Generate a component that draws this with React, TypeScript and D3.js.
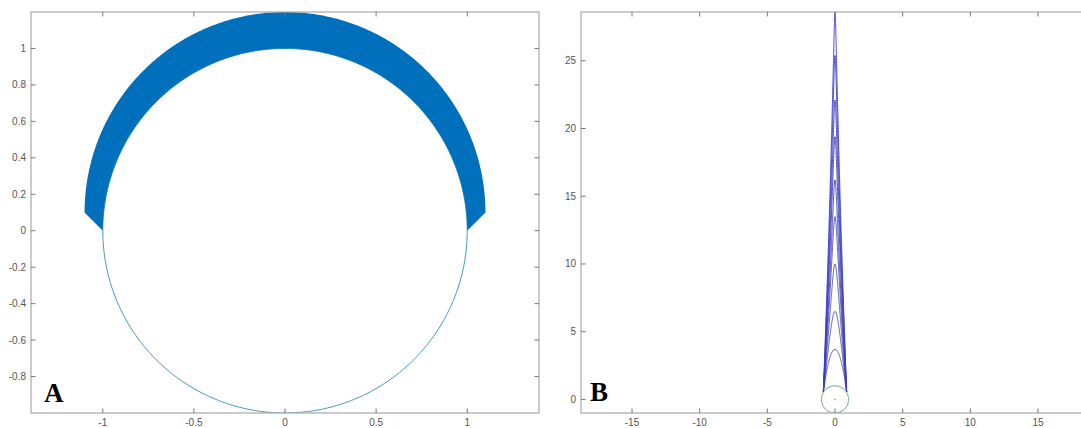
import React from "react";
import * as d3 from "d3";

// ---------- Data ----------
// Panel A: unit circle + crescent band (outer circle centre y, radius)
const circleRadiusA = 1;
const bandOuterRadius = 1.1;
const bandOuterCenterY = 0.1;
const xTicksA = [-1, -0.5, 0, 0.5, 1];
const yTicksA = [-0.8, -0.6, -0.4, -0.2, 0, 0.2, 0.4, 0.6, 0.8, 1];

// Panel B: base circle + nested arches (peak heights and sharpness)
const circleRadiusB = 1;
const archPeaks = [3.7, 6.5, 10.0, 13.5, 16.2, 19.4, 22.1, 25.4, 28.6];
const archSharpness = [0, 0.3, 0.5, 0.6, 0.64, 0.66, 0.68, 0.7, 0.72];
const archBaseHalfWidth = 0.86;
const archBaseY = 0.55;
const xTicksB = [-15, -10, -5, 0, 5, 10, 15];
const yTicksB = [0, 5, 10, 15, 20, 25];

const W = 1081;
const H = 428;

type Box = { x0: number; x1: number; y0: number; y1: number };

function Axes({ box, xs, ys, xTicks, yTicks, fmt }: any) {
  const tl = 4.5;
  return (
    <g>
      <rect x={box.x0} y={box.y0} width={box.x1 - box.x0} height={box.y1 - box.y0}
        fill="none" stroke="#a8a8a8" strokeWidth={1.2} />
      {xTicks.map((t: number) => (
        <g key={"x" + t}>
          <line x1={xs(t)} x2={xs(t)} y1={box.y1} y2={box.y1 - tl} stroke="#777" />
          <line x1={xs(t)} x2={xs(t)} y1={box.y0} y2={box.y0 + tl} stroke="#777" />
          <text x={xs(t)} y={box.y1 + 13} textAnchor="middle" fontSize={10}
            fontFamily="'Liberation Sans', Arial, sans-serif" fill="#555">{fmt(t)}</text>
        </g>
      ))}
      {yTicks.map((t: number) => (
        <g key={"y" + t}>
          <line x1={box.x0} x2={box.x0 + tl} y1={ys(t)} y2={ys(t)} stroke="#777" />
          <line x1={box.x1} x2={box.x1 - tl} y1={ys(t)} y2={ys(t)} stroke="#777" />
          <text x={box.x0 - 5} y={ys(t) + 3.5} textAnchor="end" fontSize={10}
            fontFamily="'Liberation Sans', Arial, sans-serif" fill="#555">{fmt(t)}</text>
        </g>
      ))}
    </g>
  );
}

export default function App() {
  const boxA: Box = { x0: 31, x1: 539, y0: 12, y1: 413 };
  const boxB: Box = { x0: 581, x1: 1089, y0: 12, y1: 413 };

  const xA = d3.scaleLinear().domain([-1.394, 1.394]).range([boxA.x0, boxA.x1]);
  const yA = d3.scaleLinear().domain([-1, 1.2]).range([boxA.y1, boxA.y0]);
  const xB = d3.scaleLinear().domain([-18.77, 18.77]).range([boxB.x0, boxB.x1]);
  const yB = d3.scaleLinear().domain([-1, 28.6]).range([boxB.y1, boxB.y0]);

  const fmt = (v: number) => String(v);

  // Panel A geometry
  const N = 240;
  const full = d3.range(N + 1).map((i) => (2 * Math.PI * i) / N);
  const half = d3.range(N + 1).map((i) => (Math.PI * i) / N);
  const lineA = d3.line<[number, number]>().x((d) => xA(d[0])).y((d) => yA(d[1]));
  const circleA = lineA(full.map((t) => [circleRadiusA * Math.cos(t), circleRadiusA * Math.sin(t)]));
  const outer = half.map((t) => [bandOuterRadius * Math.cos(t), bandOuterCenterY + bandOuterRadius * Math.sin(t)] as [number, number]);
  const inner = half.slice().reverse().map((t) => [circleRadiusA * Math.cos(t), circleRadiusA * Math.sin(t)] as [number, number]);
  const band = lineA([...outer, ...inner]) + "Z";

  // Panel B geometry
  const lineB = d3.line<[number, number]>().x((d) => xB(d[0])).y((d) => yB(d[1]));
  const circleB = lineB(full.map((t) => [circleRadiusB * Math.cos(t), circleRadiusB * Math.sin(t)]));
  const S = d3.range(201).map((i) => i / 200);
  const archColor = d3.interpolateRgb("#40408a", "#3a3ad0");
  const arches = archPeaks.map((h, i) => {
    const b = archSharpness[i];
    const pts = (sign: number) =>
      S.map((s) => [sign * archBaseHalfWidth * Math.sqrt(1 - s) * (1 - b * s), archBaseY + (h - archBaseY) * s] as [number, number]);
    const left = pts(-1);
    const right = pts(1).reverse();
    return { d: lineB([...left, ...right]), c: archColor(i / (archPeaks.length - 1)) };
  });

  return (
    <svg width={W} height={H} style={{ position: "absolute", left: 0, top: 0, background: "#fff" }}>
      <defs>
        <clipPath id="clipA"><rect x={boxA.x0} y={boxA.y0} width={boxA.x1 - boxA.x0} height={boxA.y1 - boxA.y0} /></clipPath>
        <clipPath id="clipB"><rect x={boxB.x0} y={boxB.y0} width={boxB.x1 - boxB.x0} height={boxB.y1 - boxB.y0} /></clipPath>
      </defs>
      {/* Panel A */}
      <g clipPath="url(#clipA)">
        <path d={circleA || ""} fill="none" stroke="#4a9bbd" strokeWidth={1} />
        <path d={band} fill="#0070bd" stroke="none" />
      </g>
      <Axes box={boxA} xs={xA} ys={yA} xTicks={xTicksA} yTicks={yTicksA} fmt={fmt} />
      <text x={44} y={402} fontSize={27} fontWeight="bold" fontFamily="'Liberation Serif', 'Times New Roman', serif">A</text>

      {/* Panel B */}
      <g clipPath="url(#clipB)">
        {arches.map((a, i) => (
          <path key={i} d={a.d || ""} fill="none" stroke={a.c} strokeWidth={0.9} />
        ))}
        <path d={circleB || ""} fill="none" stroke="#5e8f86" strokeWidth={1} />
        <circle cx={xB(0)} cy={yB(0)} r={0.9} fill="#e8a040" />
      </g>
      <Axes box={boxB} xs={xB} ys={yB} xTicks={xTicksB} yTicks={yTicksB} fmt={fmt} />
      <text x={590} y={401} fontSize={27} fontWeight="bold" fontFamily="'Liberation Serif', 'Times New Roman', serif">B</text>
    </svg>
  );
}
